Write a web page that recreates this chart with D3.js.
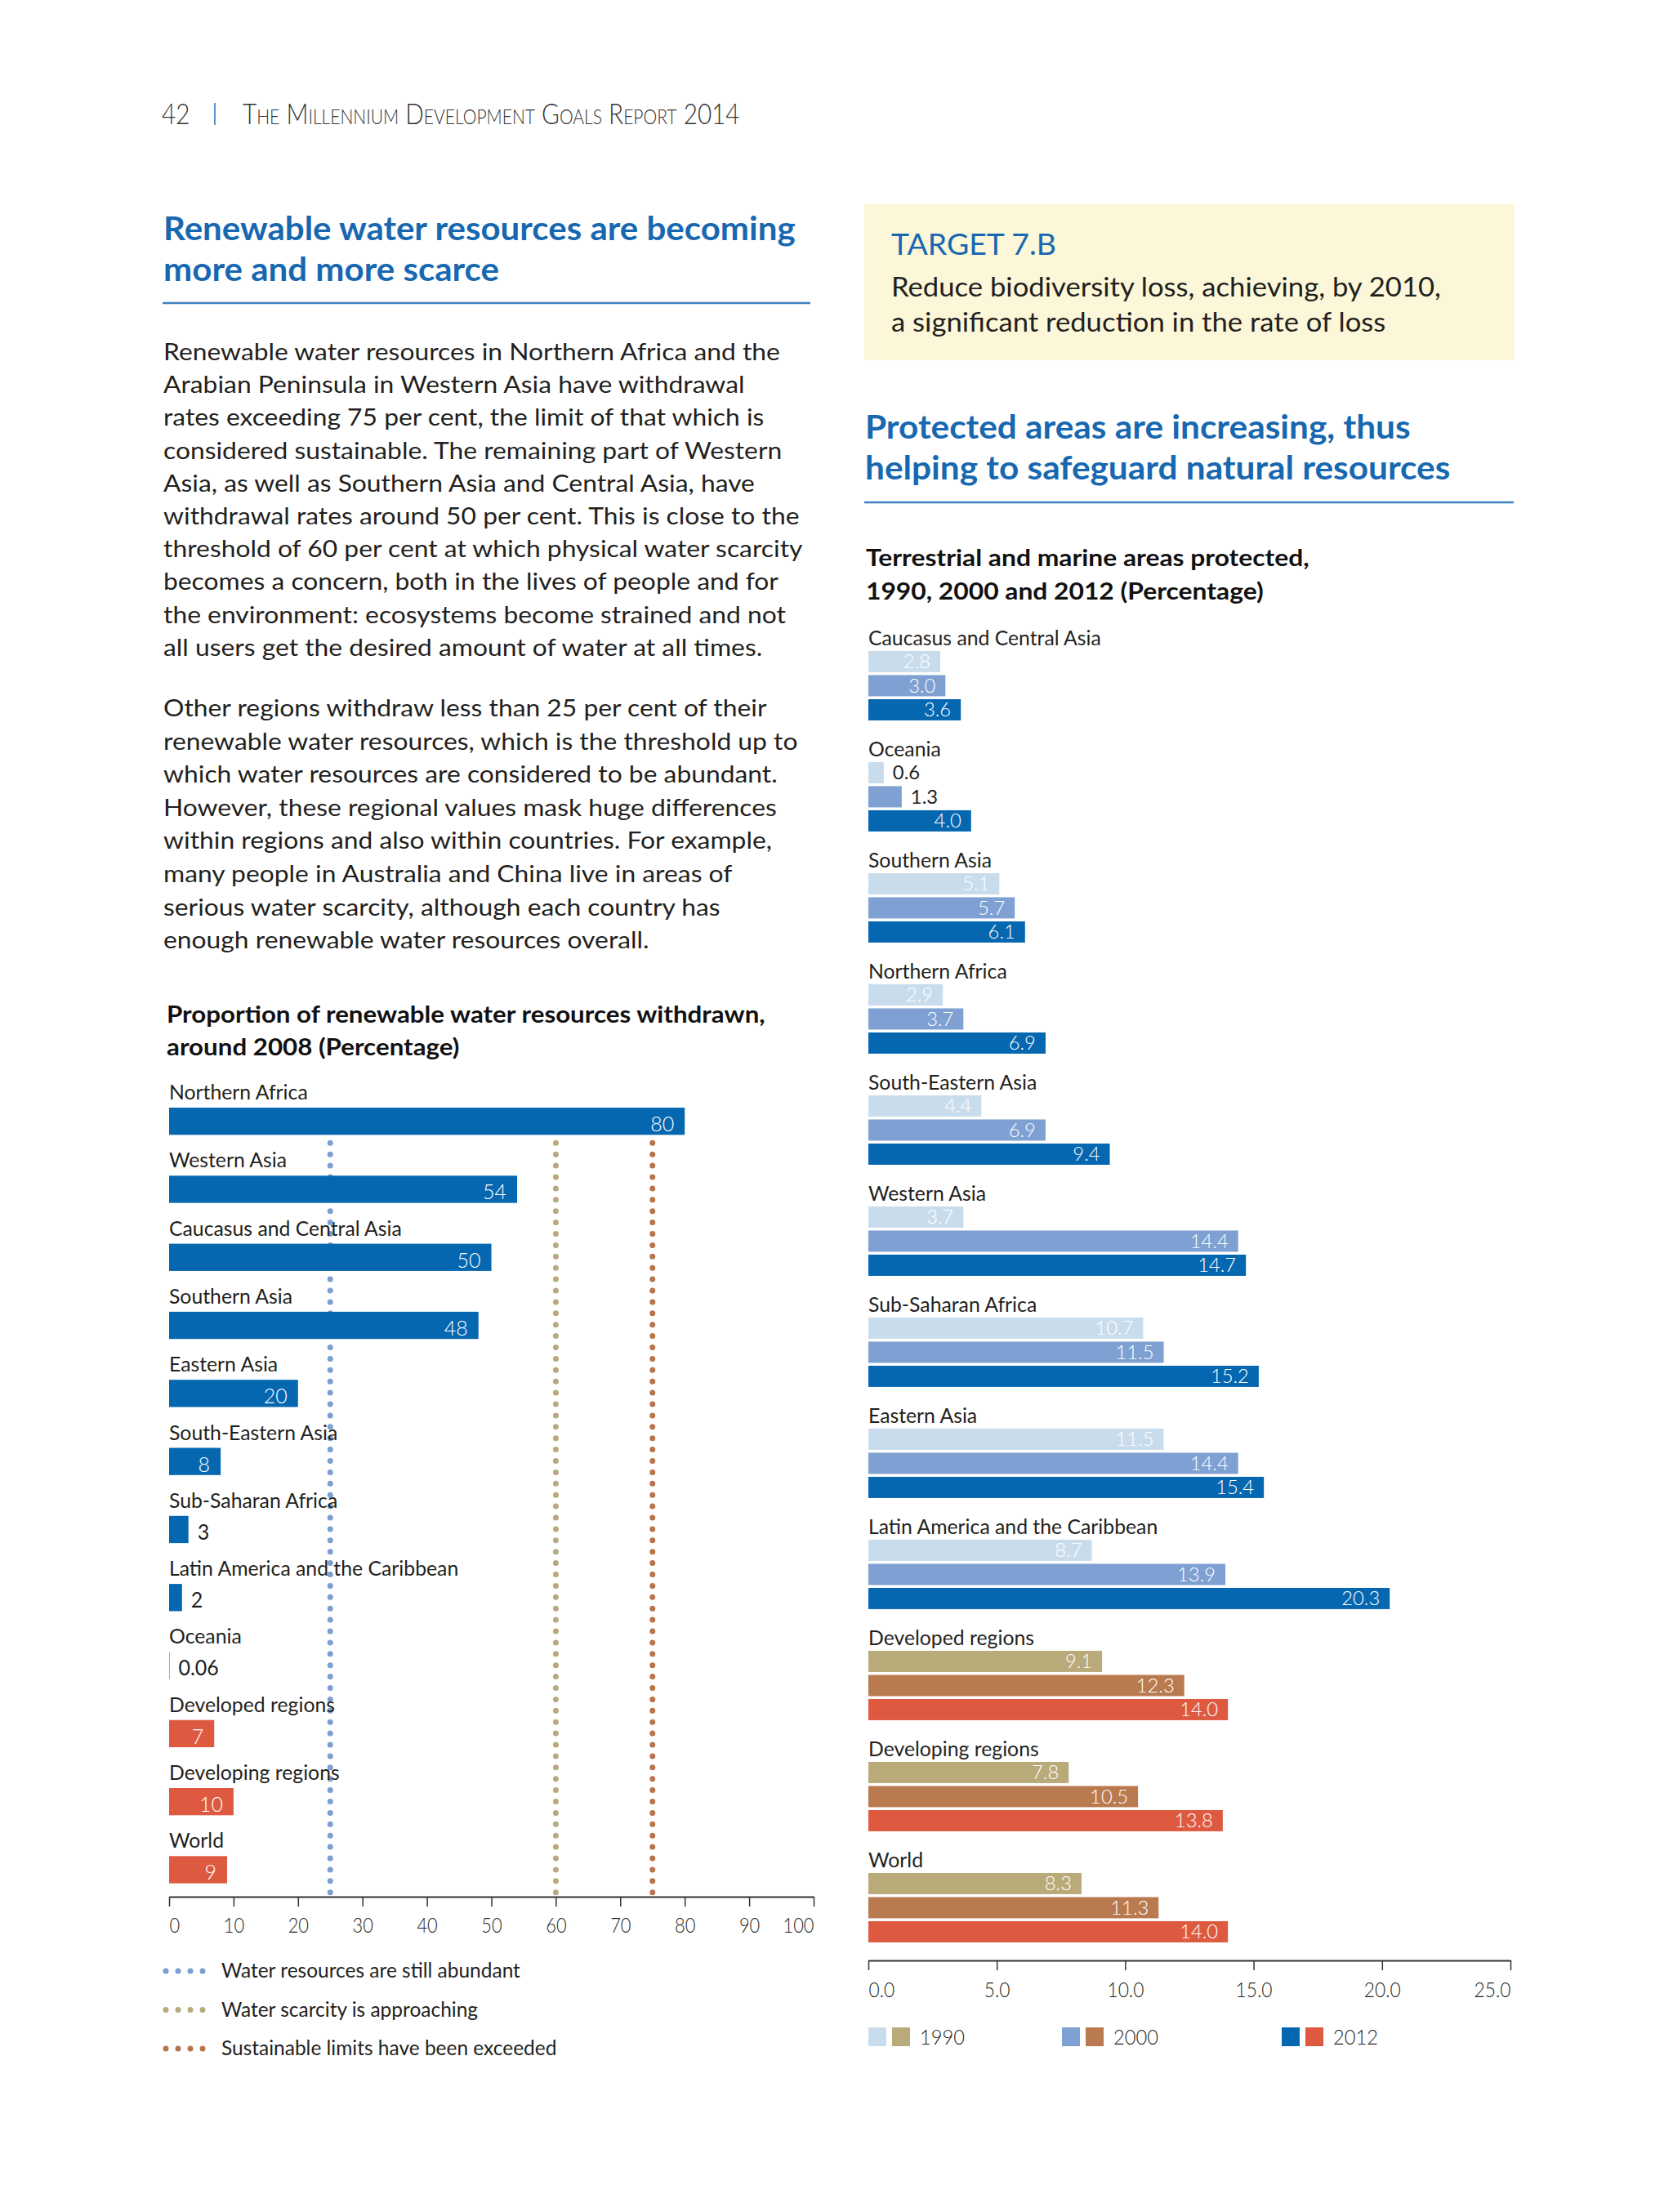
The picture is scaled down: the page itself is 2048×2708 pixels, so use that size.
<!DOCTYPE html>
<html>
<head>
<meta charset="utf-8">
<script src="https://cdn.jsdelivr.net/npm/d3@7"></script>
<style>
  body { margin: 0; background: #fff; }
  svg text { font-family: Lato, "Open Sans", sans-serif; }
</style>
</head>
<body>
<svg id="page" width="2048" height="2708"></svg>
<script>
// ---- page text ----
const pageNo = "42";
const runningHead = "The Millennium Development Goals Report 2014";
const titleLeft = ["Renewable water resources are becoming", "more and more scarce"];
const para1 = [
  "Renewable water resources in Northern Africa and the",
  "Arabian Peninsula in Western Asia have withdrawal",
  "rates exceeding 75 per cent, the limit of that which is",
  "considered sustainable. The remaining part of Western",
  "Asia, as well as Southern Asia and Central Asia, have",
  "withdrawal rates around 50 per cent. This is close to the",
  "threshold of 60 per cent at which physical water scarcity",
  "becomes a concern, both in the lives of people and for",
  "the environment: ecosystems become strained and not",
  "all users get the desired amount of water at all times."
];
const para2 = [
  "Other regions withdraw less than 25 per cent of their",
  "renewable water resources, which is the threshold up to",
  "which water resources are considered to be abundant.",
  "However, these regional values mask huge differences",
  "within regions and also within countries. For example,",
  "many people in Australia and China live in areas of",
  "serious water scarcity, although each country has",
  "enough renewable water resources overall."
];
const targetHead = "TARGET 7.B";
const targetText = ["Reduce biodiversity loss, achieving, by 2010,", "a significant reduction in the rate of loss"];
const titleRight = ["Protected areas are increasing, thus", "helping to safeguard natural resources"];

// ---- left chart data ----
const chartTitleL = ["Proportion of renewable water resources withdrawn,", "around 2008 (Percentage)"];
const regionsL = ["Northern Africa", "Western Asia", "Caucasus and Central Asia", "Southern Asia",
  "Eastern Asia", "South-Eastern Asia", "Sub-Saharan Africa", "Latin America and the Caribbean",
  "Oceania", "Developed regions", "Developing regions", "World"];
const withdrawn = [80, 54, 50, 48, 20, 8, 3, 2, 0.06, 7, 10, 9];
const thresholds = [25, 60, 75];
const thresholdLabels = ["Water resources are still abundant", "Water scarcity is approaching",
  "Sustainable limits have been exceeded"];
const ticksL = [0, 10, 20, 30, 40, 50, 60, 70, 80, 90, 100];

// ---- right chart data ----
const chartTitleR = ["Terrestrial and marine areas protected,", "1990, 2000 and 2012 (Percentage)"];
const regionsR = ["Caucasus and Central Asia", "Oceania", "Southern Asia", "Northern Africa",
  "South-Eastern Asia", "Western Asia", "Sub-Saharan Africa", "Eastern Asia",
  "Latin America and the Caribbean", "Developed regions", "Developing regions", "World"];
const years = ["1990", "2000", "2012"];
const v1990 = [2.8, 0.6, 5.1, 2.9, 4.4, 3.7, 10.7, 11.5, 8.7, 9.1, 7.8, 8.3];
const v2000 = [3.0, 1.3, 5.7, 3.7, 6.9, 14.4, 11.5, 14.4, 13.9, 12.3, 10.5, 11.3];
const v2012 = [3.6, 4.0, 6.1, 6.9, 9.4, 14.7, 15.2, 15.4, 20.3, 14.0, 13.8, 14.0];
const ticksR = [0, 5, 10, 15, 20, 25];
const aggregates = ["Developed regions", "Developing regions", "World"];

// ---- colours ----
const ink = "#231f20";
const headBlue = "#1768b1";
const ruleBlue = "#3f80c2";
const regionCols = ["#c9dcec", "#7ea0d2", "#0567b0"];
const aggCols = ["#b9aa7a", "#b97a4f", "#dd5a41"];
const thrCols = ["#7b9fd3", "#b7ab7e", "#b8754b"];

const svg = d3.select("#page");

function measure(str, size, weight, variant) {
  const t = svg.append("text")
    .attr("font-size", size).attr("font-weight", weight)
    .style("font-variant", variant || "normal").text(str);
  const w = t.node().getComputedTextLength();
  t.remove();
  return w;
}
function fit(str, size, weight, target, variant) {
  return target / measure(str, size, weight, variant);
}
function put(parent, x, y, str, o) {
  return parent.append("text")
    .attr("transform", `translate(${x},${y}) scale(${o.sx || 1},1)`)
    .attr("font-size", o.size)
    .attr("font-weight", o.weight || 400)
    .attr("fill", o.fill || ink)
    .attr("text-anchor", o.anchor || "start")
    .style("font-variant", o.variant || "normal")
    .text(str);
}
function block(parent, x, y0, lh, lines, o) {
  lines.forEach((s, i) => put(parent, x, y0 + i * lh, s, o));
}

// ---- running head ----
const head = svg.append("g").attr("class", "running-head");
const headSx = fit(runningHead, 35, 300, 612, "small-caps");
put(head, 198, 152, pageNo, {size: 35, weight: 300, fill: "#333", sx: headSx});
head.append("line").attr("x1", 263).attr("x2", 263).attr("y1", 126).attr("y2", 153)
  .attr("stroke", "#5b95cf").attr("stroke-width", 2);
put(head, 297, 152, runningHead, {size: 35, weight: 300, fill: "#333", sx: headSx, variant: "small-caps"});

// ---- left column text ----
const left = svg.append("g").attr("class", "left-col");
const tSx = fit(titleLeft[0], 40, 700, 774);
block(left, 200, 294, 50, titleLeft, {size: 40, weight: 700, fill: headBlue, sx: tSx});
left.append("line").attr("x1", 199).attr("x2", 992).attr("y1", 371).attr("y2", 371)
  .attr("stroke", ruleBlue).attr("stroke-width", 2.5);
const pSx = fit(para1[0], 29, 400, 755);
block(left, 200, 441, 40.2, para1, {size: 29, sx: pSx});
block(left, 200, 877, 40.6, para2, {size: 29, sx: pSx});

// ---- right column text ----
const right = svg.append("g").attr("class", "right-col");
right.append("rect").attr("x", 1058).attr("y", 250).attr("width", 796).attr("height", 191)
  .attr("fill", "#fcf7d8");
put(right, 1091, 312, targetHead, {size: 37, fill: headBlue, sx: fit(targetHead, 37, 400, 202)});
block(right, 1091, 363, 43, targetText, {size: 33, sx: fit(targetText[0], 33, 400, 673)});
const trSx = (fit(titleRight[0], 40, 700, 668) + fit(titleRight[1], 40, 700, 716)) / 2;
block(right, 1059, 537, 50, titleRight, {size: 40, weight: 700, fill: headBlue, sx: trSx});
right.append("line").attr("x1", 1058).attr("x2", 1853).attr("y1", 615).attr("y2", 615)
  .attr("stroke", ruleBlue).attr("stroke-width", 2.5);

// shared chart text scales
const labSx = fit("Caucasus and Central Asia", 25, 400, 285);
const valSxR = fit("20.3", 23, 300, 47);
const valSxL = fit("80", 26, 300, 29);

// ================= LEFT CHART =================
const gl = svg.append("g").attr("class", "chart-left");
block(gl, 204, 1252, 40, chartTitleL, {size: 28, weight: 700, fill: "#111", sx: fit(chartTitleL[0], 28, 700, 733)});

const xL = d3.scaleLinear().domain([0, 100]).range([207, 996]);
const stepL = 83.3, topL = 1356;
const yL = d3.scaleBand().domain(regionsL)
  .range([topL - 0.3 * stepL, topL - 0.3 * stepL + stepL * regionsL.length])
  .paddingInner(0.6).paddingOuter(0.3);
const axisYL = 2322;

// threshold dotted lines
gl.selectAll("line.thr").data(thresholds).join("line")
  .attr("class", "thr")
  .attr("x1", d => xL(d)).attr("x2", d => xL(d))
  .attr("y1", yL(regionsL[0]) + yL.bandwidth() + 10).attr("y2", axisYL - 3)
  .attr("stroke", (d, i) => thrCols[i]).attr("stroke-width", 7)
  .attr("stroke-linecap", "round").attr("stroke-dasharray", "0,13.9");

const rowsL = regionsL.map((r, i) => ({region: r, value: withdrawn[i]}));
gl.selectAll("rect.bar").data(rowsL).join("rect")
  .attr("class", "bar")
  .attr("x", xL(0)).attr("y", d => yL(d.region))
  .attr("width", d => xL(d.value) - xL(0)).attr("height", yL.bandwidth())
  .attr("fill", d => aggregates.includes(d.region) ? aggCols[2] : regionCols[2]);

rowsL.forEach(d => {
  put(gl, xL(0), yL(d.region) - 10, d.region, {size: 25, sx: labSx});
  const label = String(d.value);
  const tw = measure(label, 26, 300) * valSxL;
  const bw = xL(d.value) - xL(0);
  const inside = bw > tw + 26;
  put(gl, inside ? xL(d.value) - 13 : xL(d.value) + 11, yL(d.region) + 29, label,
    {size: 26, weight: inside ? 300 : 400, fill: inside ? "#fff" : ink, anchor: inside ? "end" : "start", sx: valSxL});
});

const axL = gl.append("g").attr("transform", `translate(0,${axisYL})`)
  .call(d3.axisBottom(xL).tickValues(ticksL).tickSize(12).tickSizeOuter(0));
const axLabSx = fit("100", 25, 300, 38);
function styleAxis(ax, labY, sx) {
  ax.select(".domain").attr("stroke", "#333").attr("stroke-width", 2);
  ax.selectAll(".tick line").attr("stroke", "#333").attr("stroke-width", 1.5);
  const n = ax.selectAll(".tick text").size();
  ax.selectAll(".tick text")
    .attr("font-family", null).attr("font-size", 25).attr("font-weight", 300).attr("fill", ink)
    .attr("dy", 0).attr("y", labY).attr("transform", `scale(${sx},1)`)
    .attr("text-anchor", (d, i) => i === 0 ? "start" : (i === n - 1 ? "end" : "middle"));
  ax.attr("font-family", null);
}
styleAxis(axL, 44, axLabSx);

// left legend
const legSx = fit(thresholdLabels[0], 25, 400, 366);
const legL = gl.append("g").attr("class", "legend-left");
thresholdLabels.forEach((s, i) => {
  const y = 2413 + 47.5 * i;
  legL.append("line").attr("x1", 203).attr("x2", 250).attr("y1", y).attr("y2", y)
    .attr("stroke", thrCols[i]).attr("stroke-width", 7)
    .attr("stroke-linecap", "round").attr("stroke-dasharray", "0,15");
  put(legL, 271, y + 8, s, {size: 25, sx: legSx});
});

// ================= RIGHT CHART =================
const gr = svg.append("g").attr("class", "chart-right");
block(gr, 1060, 693, 41, chartTitleR, {size: 28, weight: 700, fill: "#111", sx: fit(chartTitleR[0], 28, 700, 543)});

const xR = d3.scaleLinear().domain([0, 25]).range([1063, 1849]);
const gY = d3.scaleBand().domain(regionsR).range([768, 768 + 136 * regionsR.length]);
const yr = d3.scaleBand().domain(years).range([27.2, 115.7]).paddingInner(0.12).paddingOuter(0.06);
const seriesR = [v1990, v2000, v2012];
const axisYR = 2400;

regionsR.forEach((r, i) => {
  const g = gr.append("g").attr("transform", `translate(0,${gY(r)})`);
  put(g, xR(0), 22, r, {size: 25, sx: labSx});
  const isAgg = aggregates.includes(r);
  const cells = years.map((y, j) => ({year: y, value: seriesR[j][i], col: (isAgg ? aggCols : regionCols)[j]}));
  g.selectAll("rect").data(cells).join("rect")
    .attr("x", xR(0)).attr("y", d => yr(d.year))
    .attr("width", d => xR(d.value) - xR(0)).attr("height", yr.bandwidth())
    .attr("fill", d => d.col);
  cells.forEach(d => {
    const label = d.value.toFixed(1);
    const tw = measure(label, 23, 300) * valSxR;
    const bw = xR(d.value) - xR(0);
    const inside = bw > tw + 24;
    put(g, inside ? xR(d.value) - 12 : xR(d.value) + 11, yr(d.year) + 21.5, label,
      {size: 23, weight: inside ? 300 : 400, fill: inside ? "#fff" : ink, anchor: inside ? "end" : "start", sx: valSxR});
  });
});

const axR = gr.append("g").attr("transform", `translate(0,${axisYR})`)
  .call(d3.axisBottom(xR).tickValues(ticksR).tickSize(12).tickSizeOuter(0).tickFormat(d3.format(".1f")));
styleAxis(axR, 45, fit("25.0", 25, 300, 45));

// right legend
const legendX = [1063, 1300, 1569];
const legR = gr.append("g").attr("class", "legend-right");
const yrSx = fit("1990", 25, 300, 55);
years.forEach((y, j) => {
  legR.append("rect").attr("x", legendX[j]).attr("y", 2482).attr("width", 22).attr("height", 23)
    .attr("fill", regionCols[j]);
  legR.append("rect").attr("x", legendX[j] + 29).attr("y", 2482).attr("width", 22).attr("height", 23)
    .attr("fill", aggCols[j]);
  put(legR, legendX[j] + 63, 2503, y, {size: 25, weight: 300, sx: yrSx});
});
</script>
</body>
</html>
